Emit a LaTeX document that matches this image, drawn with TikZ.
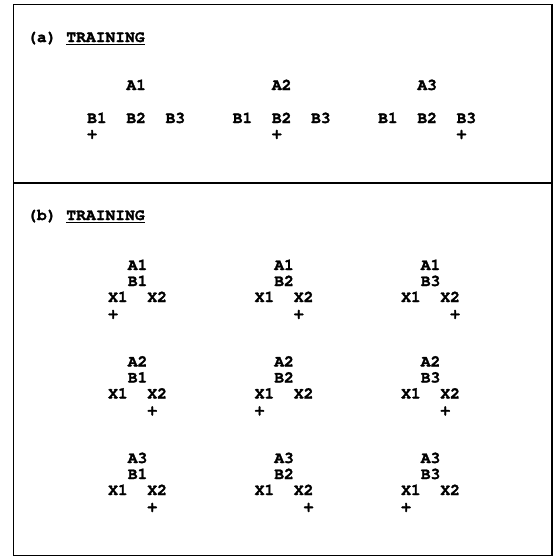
\documentclass[tikz,border=0pt]{standalone}
\usepackage{fontspec}
\setmonofont[BoldFeatures={FakeBold=1.6}]{TeX Gyre Cursor}
\usepackage{tikz}

\begin{document}
\begin{tikzpicture}[x=1pt,y=-1pt,
  every node/.style={font=\ttfamily\bfseries\fontsize{16.3}{16}\selectfont,inner sep=0pt,anchor=base west},
  frameline/.style={line width=1.5pt},
  titleline/.style={line width=1.6pt}]
\useasboundingbox (0,0) rectangle (560,557);
% ==================== FRAME ====================
\draw[frameline] (13.5,4.5) rectangle (552,555.5);
\draw[frameline] (13.5,183) -- (552,183);

% ==================== (a) TRAINING ====================
\node (tagA) at (27,42) {(a)};
\node (trainA) at (66.2,42) {TRAINING};
\draw[titleline] ([yshift=-2.4pt]trainA.base west) -- ([yshift=-2.4pt]trainA.base east);
% one group per A, plus sign under the matching B
\foreach \i in {1,2,3}{
  \node (aA\i) at ({87+145.5*(\i-1)+39.2},90) {A\i};
  \foreach \b in {1,2,3}
    \node (aB\i\b) at ({87+145.5*(\i-1)+39.2*(\b-1)},123) {B\b};
  \node (aPlus\i) at ({87+145.5*(\i-1)+39.2*(\i-1)},138.5) {+};
}

% ==================== (b) TRAINING ====================
\node (tagB) at (27,220) {(b)};
\node (trainB) at (66.2,220) {TRAINING};
\draw[titleline] ([yshift=-2.4pt]trainB.base west) -- ([yshift=-2.4pt]trainB.base east);
% row = A, column = B, \k = character cell of the plus sign
\foreach \r/\c/\k in {1/1/0,1/2/4,1/3/5,
                      2/1/4,2/2/0,2/3/4,
                      3/1/4,3/2/5,3/3/0}{
  \node (bA\r\c) at ({108+146.5*(\c-1)+19.6},{270+96.5*(\r-1)}) {A\r};
  \node (bB\r\c) at ({108+146.5*(\c-1)+19.6},{286+96.5*(\r-1)}) {B\c};
  \node (bX\r\c) at ({108+146.5*(\c-1)},{302+96.5*(\r-1)}) {X1};
  \node (bY\r\c) at ({108+146.5*(\c-1)+39.2},{302+96.5*(\r-1)}) {X2};
  \node (bPlus\r\c) at ({108+146.5*(\c-1)+9.8*\k},{318.5+96.5*(\r-1)}) {+};
}
\end{tikzpicture}
\end{document}
